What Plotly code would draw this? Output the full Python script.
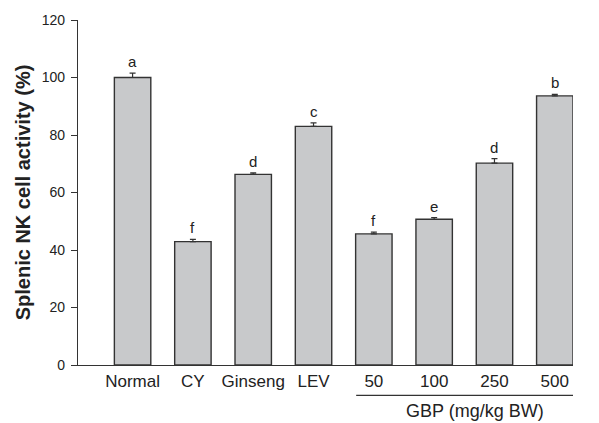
import plotly.graph_objects as go

# Splenic NK cell activity by treatment group
groups = ["Normal", "CY", "Ginseng", "LEV", "50", "100", "250", "500"]
activity = [100.0, 42.9, 66.3, 83.0, 45.6, 50.7, 70.2, 93.6]
sem = [1.5, 0.8, 0.5, 1.2, 0.6, 0.6, 1.6, 0.5]
letters = ["a", "f", "d", "c", "f", "e", "d", "b"]

FONT = "Arial, 'Liberation Sans', sans-serif"
INK = "#222222"
LINE = "#333333"

fig = go.Figure()
fig.add_trace(go.Bar(
    x=list(range(len(groups))),
    y=activity,
    width=0.604,
    marker=dict(color="#c8c9cb", line=dict(color=LINE, width=1.4)),
    error_y=dict(type="data", array=sem, arrayminus=[0] * len(sem),
                 symmetric=False, color=LINE, thickness=1.2, width=3),
    showlegend=False,
))

# significance letters above each error bar
for i, (v, e, t) in enumerate(zip(activity, sem, letters)):
    fig.add_annotation(x=i, y=v + e, text=t, showarrow=False,
                       yanchor="bottom", yshift=1,
                       font=dict(family=FONT, size=15, color=INK))

# bracket grouping the GBP doses
fig.add_shape(type="line", xref="x", yref="paper",
              x0=3.707, x1=7.35, y0=-0.088, y1=-0.088,
              line=dict(color=LINE, width=1.4))
fig.add_annotation(x=5.68, y=-0.134, xref="x", yref="paper",
                   xanchor="center", yanchor="middle",
                   text="GBP (mg/kg BW)", showarrow=False,
                   font=dict(family=FONT, size=18, color=INK))

fig.update_layout(
    width=599, height=423,
    margin=dict(l=78, r=26, t=17, b=58),
    paper_bgcolor="white", plot_bgcolor="white",
    font=dict(family=FONT, color=INK),
    xaxis=dict(
        range=[-0.905, 7.302],
        tickmode="array", tickvals=list(range(len(groups))), ticktext=groups,
        ticks="", showline=True, linecolor=LINE, linewidth=1.4,
        showgrid=False, zeroline=False,
        tickfont=dict(family=FONT, size=17, color=INK),
    ),
    yaxis=dict(
        range=[0, 120], tickvals=[0, 20, 40, 60, 80, 100, 120],
        ticks="outside", ticklen=6, tickwidth=1.2, tickcolor=LINE,
        ticklabelstandoff=3,
        showline=True, linecolor=LINE, linewidth=1.4,
        showgrid=False, zeroline=False,
        tickfont=dict(family=FONT, size=14, color=INK),
        title=dict(text="<b>Splenic NK cell activity (%)</b>",
                   font=dict(family=FONT, size=20, color=INK), standoff=5),
    ),
)

fig.write_html("out.html")
